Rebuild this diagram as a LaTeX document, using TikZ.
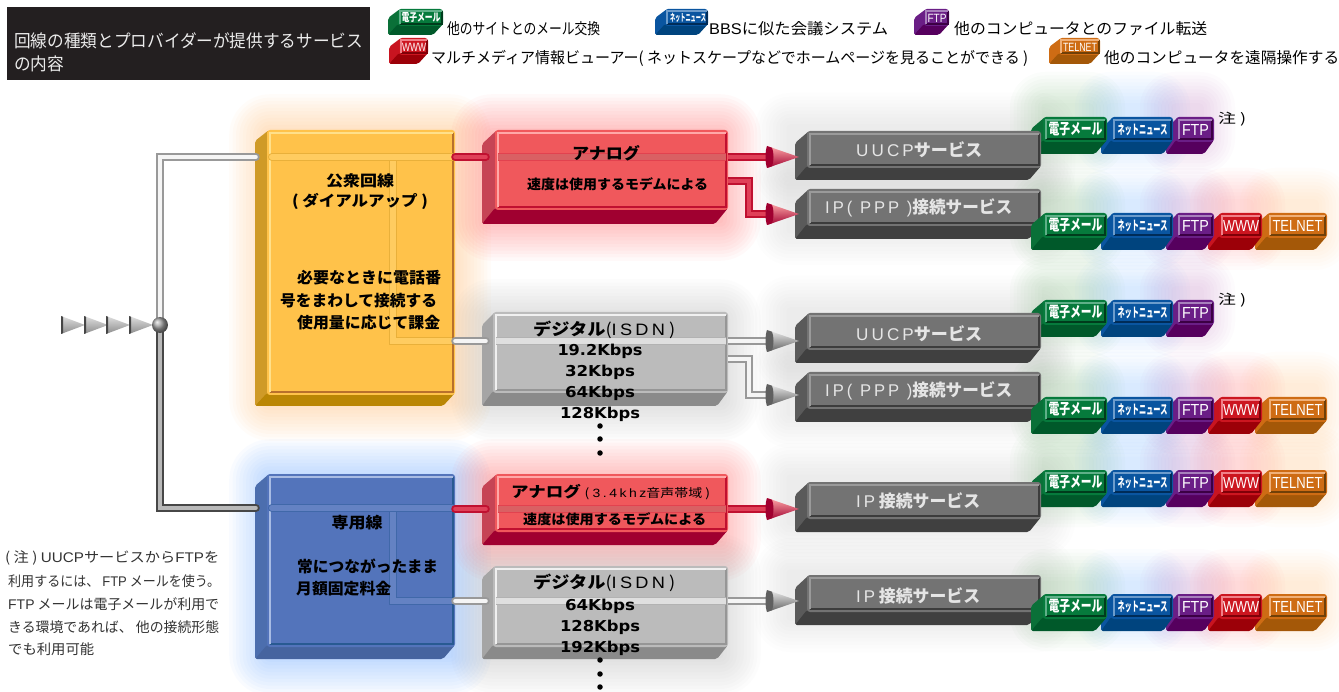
\documentclass[tikz,border=0pt]{standalone}
\usepackage{fontspec}
\setmainfont{Noto Sans CJK JP}
\newfontfamily\lat{Liberation Sans}
\newfontfamily\latsp[LetterSpace=18]{Liberation Sans}
\newfontfamily\kb{DejaVu Sans}
\usetikzlibrary{calc}
\definecolor{ttlbg}{HTML}{231F20}
\definecolor{yelF}{HTML}{FFC24A}\definecolor{yelS}{HTML}{CF9A27}\definecolor{yelB}{HTML}{BA8604}\definecolor{yelH}{HTML}{FFE08A}\definecolor{yelL}{HTML}{B8702C}
\definecolor{redF}{HTML}{F0585C}\definecolor{redS}{HTML}{C64455}\definecolor{redB}{HTML}{A00030}\definecolor{redH}{HTML}{FFA8A8}\definecolor{redL}{HTML}{C01030}
\definecolor{gryF}{HTML}{BBBBBB}\definecolor{gryS}{HTML}{A5A5A5}\definecolor{gryB}{HTML}{8A8A8A}\definecolor{gryH}{HTML}{F0F0F0}\definecolor{gryL}{HTML}{969696}
\definecolor{bluF}{HTML}{5374BB}\definecolor{bluS}{HTML}{4C6EAE}\definecolor{bluB}{HTML}{46649F}\definecolor{bluH}{HTML}{A8BCE4}\definecolor{bluL}{HTML}{285A92}
\definecolor{svcF}{HTML}{737373}\definecolor{svcS}{HTML}{5A5A5A}\definecolor{svcB}{HTML}{404040}\definecolor{svcH}{HTML}{9A9A9A}\definecolor{svcL}{HTML}{3C3C3C}
\definecolor{mailF}{HTML}{067A3C}\definecolor{mailS}{HTML}{0A7038}\definecolor{mailB}{HTML}{00592A}\definecolor{mailH}{HTML}{5FB088}\definecolor{mailL}{HTML}{003C1C}
\definecolor{newsF}{HTML}{0A55A0}\definecolor{newsS}{HTML}{0A55A0}\definecolor{newsB}{HTML}{00447E}\definecolor{newsH}{HTML}{6C9CCC}\definecolor{newsL}{HTML}{002C58}
\definecolor{ftpF}{HTML}{6A1E86}\definecolor{ftpS}{HTML}{6A1E86}\definecolor{ftpB}{HTML}{56005E}\definecolor{ftpH}{HTML}{A880BC}\definecolor{ftpL}{HTML}{3C0044}
\definecolor{wwwF}{HTML}{CC1620}\definecolor{wwwS}{HTML}{C81420}\definecolor{wwwB}{HTML}{9C0008}\definecolor{wwwH}{HTML}{F08088}\definecolor{wwwL}{HTML}{800008}
\definecolor{telF}{HTML}{CE6C14}\definecolor{telS}{HTML}{CE6C14}\definecolor{telB}{HTML}{A45808}\definecolor{telH}{HTML}{F0B078}\definecolor{telL}{HTML}{704008}
\definecolor{pipeRin}{HTML}{E04058}
\tikzset{
 pipeG/.style={line width=2pt,draw=gray!80,double=gray!8,double distance=4pt,line cap=round},
 pipeD/.style={line width=2pt,draw=black!72,double=gray!55,double distance=4pt,line cap=round},
 pipeR/.style={line width=2pt,draw=redL,double=pipeRin,double distance=4pt,line cap=round},
 lbl/.style={inner sep=0,anchor=west,text=black},
 ctr/.style={inner sep=0,anchor=center,text=black},
 svc/.style={inner sep=0,anchor=west,text=gray!20},
 bdg/.style={inner sep=0,anchor=center,text=white},
 dotm/.style={circle,fill=black,inner sep=0,minimum size=5.5pt},
}
% name,x0,fx,fr,ty,fb,by,prefix,inset
\newcommand{\solid}[9]{%
 \pgfmathsetmacro{\bw}{(#4)-(#3)}\pgfmathsetmacro{\bh}{(#6)-(#5)}%
 \pgfmathsetmacro{\sdx}{(#3)-(#2)}\pgfmathsetmacro{\sdy}{(#7)-(#6)}%
 \fill[#8S,rounded corners=2] (#3+2,#5) -- (#3+2,#6) -- (#2,#7) -- (#2,#5+\sdy) -- cycle;
 \fill[#8B,rounded corners=2] (#3,#6-2) -- (#4,#6-2) -- (#4-\sdx,#7) -- (#2,#7) -- cycle;
 \node[inner sep=0,minimum width=\bw pt,minimum height=\bh pt,rounded corners=3,fill=#8F] (#1) at ({(#3+#4)/2},{(#5+#6)/2}) {};
 \draw[#8L,line width=1.1] (#3+#9,#6-#9) -- (#4-#9+1,#6-#9) -- (#4-#9+1,#5+#9);
 \draw[#8H,line width=1.2] (#3+#9,#6-#9) -- (#3+#9,#5+#9) -- (#4-#9+1,#5+#9);
}
\newcommand{\glow}[5]{\foreach \i in {1,...,12}{\fill[#5,opacity=.022,rounded corners=\i*3.4] (#1-\i*3.4,#2-\i*3.4) rectangle (#3+\i*3.4,#4+\i*3.4);}}
\newcommand{\rglow}[5]{\foreach \i in {1,...,10}{\fill[#5,opacity=.016,rounded corners=\i*3.5] (#1-\i*3.5,#2-\i*3.5) rectangle (#3+\i*3.5,#4+\i*3.5);}}
% cone: base x, centre y, light, dark
\newcommand{\cone}[4]{%
 \shade[top color=#3,bottom color=#4] (#1+1,#2-11) -- (#1+33,#2) -- (#1+1,#2+11) -- cycle;
 \fill[#4] (#1+1,#2-11) -- (#1+6,#2-9.3) .. controls (#1+8,#2-5) and (#1+8,#2+5) .. (#1+6,#2+9.3) -- (#1+1,#2+11) .. controls (#1-1,#2+6) and (#1-1,#2-6) .. (#1+1,#2-11) -- cycle;
}
% fitted text
\newcommand{\fit}[3]{\resizebox{#1pt}{\height}{\fontsize{#2}{#2}\selectfont #3}}
\newcommand{\badge}[9]{\solid{#1}{#2}{#3}{#4}{#5}{#5+25}{#5+37}{#6}{3}\node[bdg] (#1t) at ({(#3+#4)/2+0.5},#5+12.5) {\fit{#8}{#9}{#7}};}
\newcommand{\mailB}[2]{\badge{#1m}{1031}{1043}{1107}{#2}{mail}{\bfseries 電子メール}{54}{15}}
\newcommand{\newsB}[2]{\badge{#1n}{1101}{1111}{1173}{#2}{news}{\bfseries ネットニュース}{50}{13}}
\newcommand{\ftpB}[2]{\badge{#1f}{1166}{1176}{1214}{#2}{ftp}{\lat FTP}{27}{16}}
\newcommand{\wwwB}[2]{\badge{#1w}{1208}{1219}{1262}{#2}{www}{\lat WWW}{36}{16}}
\newcommand{\telB}[2]{\badge{#1e}{1255}{1267}{1327}{#2}{tel}{\lat TELNET}{50}{16}}
\newcommand{\rowthree}[2]{\ftpB{#1}{#2}\newsB{#1}{#2}\mailB{#1}{#2}}
\newcommand{\rowfive}[2]{\telB{#1}{#2}\wwwB{#1}{#2}\ftpB{#1}{#2}\newsB{#1}{#2}\mailB{#1}{#2}}
\newcommand{\rowglow}[2]{%
 \rglow{1045}{#1-10}{1090}{#1+22}{green!45!black}\rglow{1110}{#1-10}{1155}{#1+22}{blue!55!cyan}\rglow{1175}{#1-10}{1200}{#1+22}{violet}%
 \ifnum#2=5 \rglow{1225}{#1-10}{1250}{#1+22}{red}\rglow{1275}{#1-10}{1315}{#1+22}{orange}\fi}
\newcommand{\svcbox}[3]{\solid{#1}{795}{807}{1041}{#2}{#2+37}{#2+#3}{svc}{3}}
\begin{document}
\begin{tikzpicture}[x=1pt,y=-1pt]
\useasboundingbox (0,0) rectangle (1339,692);
% glows
\foreach \t in {150,208,333,391,500,595}{\rglow{790}{\t-22}{1040}{\t+22}{gray}}
\rowglow{117}{3}\rowglow{213}{5}\rowglow{300}{3}\rowglow{397}{5}\rowglow{470}{5}\rowglow{594}{5}
\glow{270}{135}{450}{400}{orange}
\glow{270}{480}{450}{655}{blue!60!cyan}
\glow{492}{135}{720}{220}{red}
\glow{492}{480}{720}{540}{red}
\glow{492}{320}{720}{400}{gray}
\glow{492}{575}{720}{655}{gray}
% legend and title
\fill[ttlbg] (7,7) rectangle (370,80);
\node[lbl,text=white!92!black] (ttl1) at (14,41) {\fit{349}{17.5}{回線の種類とプロバイダーが提供するサービス}};
\node[lbl,text=white!92!black] (ttl2) at (14,64) {\fit{50}{17.5}{の内容}};
\solid{l1}{388}{398}{443}{9}{26}{35}{mail}{2}
\node[bdg] (l1t) at (421,18) {\fit{39}{11}{\bfseries 電子メール}};
\solid{l2}{655}{665}{708}{9}{26}{35}{news}{2}
\node[bdg] (l2t) at (688,18) {\fit{36}{10}{\bfseries ネットニュース}};
\solid{l3}{914}{924}{949}{9}{26}{35}{ftp}{2}
\node[bdg] (l3t) at (937,18) {\fit{19}{12}{\lat FTP}};
\solid{l4}{389}{399}{428}{38}{55}{64}{www}{2}
\node[bdg] (l4t) at (414,47) {\fit{24}{12}{\lat WWW}};
\solid{l5}{1049}{1059}{1100}{38}{55}{64}{tel}{2}
\node[bdg] (l5t) at (1080,47) {\fit{34}{12}{\lat TELNET}};
\node[lbl] (d1) at (447,29) {\fit{153}{15.5}{他のサイトとのメール交換}};
\node[lbl] (d2) at (709,29) {\fit{179}{15.5}{{\lat BBS}に似た会議システム}};
\node[lbl] (d3) at (954,29) {\fit{253}{15.5}{他のコンピュータとのファイル転送}};
\node[lbl] (d4) at (431,58) {\fit{597}{15.5}{マルチメディア情報ビューアー( ネットスケープなどでホームページを見ることができる )}};
\node[lbl] (d5) at (1104,58) {\fit{235}{15.5}{他のコンピュータを遠隔操作する}};
% back badge rows
\rowthree{a}{117}\rowthree{c}{300}\rowfive{e}{470}
% boxes
\solid{yellow}{255}{267}{455}{130}{395}{406}{yel}{3}
\solid{blue}{255}{267}{455}{474}{647}{659}{blu}{3}
\solid{red1}{482}{495}{728}{130}{210}{224}{red}{3}
\solid{gray1}{482}{493}{728}{312}{393}{406}{gry}{3}
\solid{red2}{482}{495}{728}{474}{532}{545}{red}{3}
\solid{gray2}{482}{493}{728}{566}{647}{659}{gry}{3}
\svcbox{uucp1}{131}{49}
\svcbox{ip1}{189}{50}
\svcbox{uucp2}{313}{50}
\svcbox{ip2}{372}{50}
\svcbox{ip3}{482}{50}
\svcbox{ip4}{575}{50}
% front badge rows
\rowfive{b}{213}\rowfive{d}{397}\rowfive{f}{594}
% bars inside boxes
\draw[line width=1pt,draw=yelS!45!yelF,double=yelH!35!yelF,double distance=6pt] (393,157) -- (393,341) -- (452,341);
\draw[line width=1pt,draw=yelS!45!yelF,double=yelH!35!yelF,double distance=6pt,line cap=round] (272,157) -- (452,157);
\draw[line width=1pt,draw=bluL!45!bluF,double=bluH!20!bluF,double distance=6pt] (393,508) -- (393,601) -- (452,601);
\draw[line width=1pt,draw=bluL!45!bluF,double=bluH!20!bluF,double distance=6pt,line cap=round] (272,508) -- (452,508);
\draw[line width=1pt,draw=redL!30!redF,double=redF!80!gray,double distance=6pt] (498,157) -- (726,157);
\draw[line width=1pt,draw=redL!30!redF,double=redF!80!gray,double distance=6pt] (498,509) -- (726,509);
\draw[line width=1pt,draw=gray!60,double=gray!25,double distance=6pt] (496,341) -- (726,341);
\draw[line width=1pt,draw=gray!60,double=gray!25,double distance=6pt] (496,601) -- (726,601);
% connectors
\coordinate (hub) at (160,325);
\draw[pipeG] (hub) |- ([xshift=-11pt]yellow.west |- 0,157);
\draw[pipeD] (hub) |- ([xshift=-11pt]blue.west |- 0,508);
\draw[pipeR] (yellow.east |- 0,157) -- ([xshift=-9pt]red1.west |- 0,157);
\draw[pipeG] (yellow.east |- 0,341) -- ([xshift=-7pt]gray1.west |- 0,341);
\draw[pipeR] (blue.east |- 0,509) -- ([xshift=-9pt]red2.west |- 0,509);
\draw[pipeG] (blue.east |- 0,601) -- ([xshift=-7pt]gray2.west |- 0,601);
\draw[pipeR,line cap=butt] (red1.east |- 0,157) -- ([xshift=-36pt]uucp1.west |- 0,157);
\draw[pipeR,line cap=butt] (red1.east |- 0,181) -- (749,181) -- (749,214) -- ([xshift=-36pt]ip1.west |- 0,214);
\draw[pipeG,line cap=butt] (gray1.east |- 0,341) -- ([xshift=-36pt]uucp2.west |- 0,341);
\draw[pipeG,line cap=butt] (gray1.east |- 0,359) -- (749,359) -- (749,395) -- ([xshift=-36pt]ip2.west |- 0,395);
\draw[pipeR,line cap=butt] (red2.east |- 0,509) -- ([xshift=-36pt]ip3.west |- 0,509);
\draw[pipeG,line cap=butt] (gray2.east |- 0,601) -- ([xshift=-36pt]ip4.west |- 0,601);
\cone{766}{157}{redH}{redB}\cone{766}{214}{redH}{redB}\cone{766}{509}{redH}{redB}
\cone{766}{341}{gray!15}{gray!75!black}\cone{766}{395}{gray!15}{gray!75!black}\cone{766}{601}{gray!15}{gray!75!black}
\foreach \q in {60,83,105,128}{\shade[top color=gray!25,bottom color=gray!90] (\q+1,316) -- (\q+25,325) -- (\q+1,334) -- cycle;
 \fill[gray!55!black] (\q+1,316) -- (\q+3,316.8) -- (\q+3,333.2) -- (\q+1,334) -- cycle;}
\node[circle,inner sep=0,minimum size=16pt,ball color=gray!75] (hubball) at (hub) {};
% yellow box text
\node[ctr] (y1) at (360,181) {\fit{68}{15}{\bfseries 公衆回線}};
\node[ctr] (y2) at (360,201) {\fit{136}{15}{\bfseries ( ダイアルアップ )}};
\node[lbl] (y3) at (297,278) {\fit{144}{15.5}{\bfseries 必要なときに電話番}};
\node[lbl] (y4) at (280,301) {\fit{157}{15.5}{\bfseries 号をまわして接続する}};
\node[lbl] (y5) at (297,323) {\fit{143}{15.5}{\bfseries 使用量に応じて課金}};
% blue box text
\node[ctr] (b1) at (357,523) {\fit{51}{15.5}{\bfseries 専用線}};
\node[lbl] (b2) at (297,566) {\fit{141}{15.5}{\bfseries 常につながったまま}};
\node[lbl] (b3) at (296,589) {\fit{95}{15.5}{\bfseries 月額固定料金}};
% red text
\node[ctr] (r1) at (606,153) {\fit{68}{16}{\bfseries アナログ}};
\node[lbl] (r2) at (527,184) {\fit{181}{13.5}{\bfseries 速度は使用するモデムによる}};
\node[lbl] (r3) at (511,492) {\fit{199}{15}{{\bfseries アナログ} {\fontsize{12}{12}\selectfont ( {\latsp 3.4khz}音声帯域 )}}};
\node[lbl] (r4) at (523,519) {\fit{183}{13.5}{\bfseries 速度は使用するモデムによる}};
% gray text
\node[lbl] (g1) at (533,330) {\fit{142}{16.5}{{\bfseries デジタル}({\latsp ISDN} )}};
\node[ctr] (g2) at (600,351.5) {\fit{85}{15}{\kb\bfseries 19.2Kbps}};
\node[ctr] (g3) at (600,372.5) {\fit{70}{15}{\kb\bfseries 32Kbps}};
\node[ctr] (g4) at (600,393.5) {\fit{70}{15}{\kb\bfseries 64Kbps}};
\node[ctr] (g5) at (600,414.5) {\fit{80}{15}{\kb\bfseries 128Kbps}};
\node[dotm] (g6) at (600,426) {};
\node[dotm] (g7) at (600,439) {};
\node[dotm] (g8) at (600,453) {};
\node[lbl] (h1) at (533,583) {\fit{142}{16.5}{{\bfseries デジタル}({\latsp ISDN} )}};
\node[ctr] (h2) at (600,606.5) {\fit{70}{15}{\kb\bfseries 64Kbps}};
\node[ctr] (h3) at (600,627.5) {\fit{80}{15}{\kb\bfseries 128Kbps}};
\node[ctr] (h4) at (600,648.5) {\fit{80}{15}{\kb\bfseries 192Kbps}};
\node[dotm] (h5) at (600,660) {};
\node[dotm] (h6) at (600,674) {};
\node[dotm] (h7) at (600,687) {};
% service text
\node[svc] (s1) at (856,150) {\fit{126}{17}{{\latsp UUCP}{\bfseries サービス}}};
\node[svc] (s2) at (825,208) {\fit{187}{17}{{\latsp IP( PPP )}{\bfseries 接続サービス}}};
\node[svc] (s3) at (856,334) {\fit{126}{17}{{\latsp UUCP}{\bfseries サービス}}};
\node[svc] (s4) at (825,391) {\fit{187}{17}{{\latsp IP( PPP )}{\bfseries 接続サービス}}};
\node[svc] (s5) at (856,501) {\fit{124}{17}{{\latsp IP} {\bfseries 接続サービス}}};
\node[svc] (s6) at (856,596) {\fit{124}{17}{{\latsp IP} {\bfseries 接続サービス}}};
% notes
\node[lbl] (n1) at (1218,119) {\fit{28}{13.5}{注 )}};
\node[lbl] (n2) at (1218,300) {\fit{28}{13.5}{注 )}};
\node[lbl,text=black!80] (o1) at (5,558) {\fit{214}{14}{( 注 ) {\lat UUCP}サービスから{\lat FTP}を}};
\node[lbl,text=black!80] (o2) at (8,581) {\fit{212}{14}{利用するには、 {\lat FTP} メールを使う。}};
\node[lbl,text=black!80] (o3) at (8,604) {\fit{211}{14}{{\lat FTP} メールは電子メールが利用で}};
\node[lbl,text=black!80] (o4) at (8,627) {\fit{211}{14}{きる環境であれば、 他の接続形態}};
\node[lbl,text=black!80] (o5) at (8,649) {\fit{86}{14}{でも利用可能}};
\end{tikzpicture}
\end{document}
